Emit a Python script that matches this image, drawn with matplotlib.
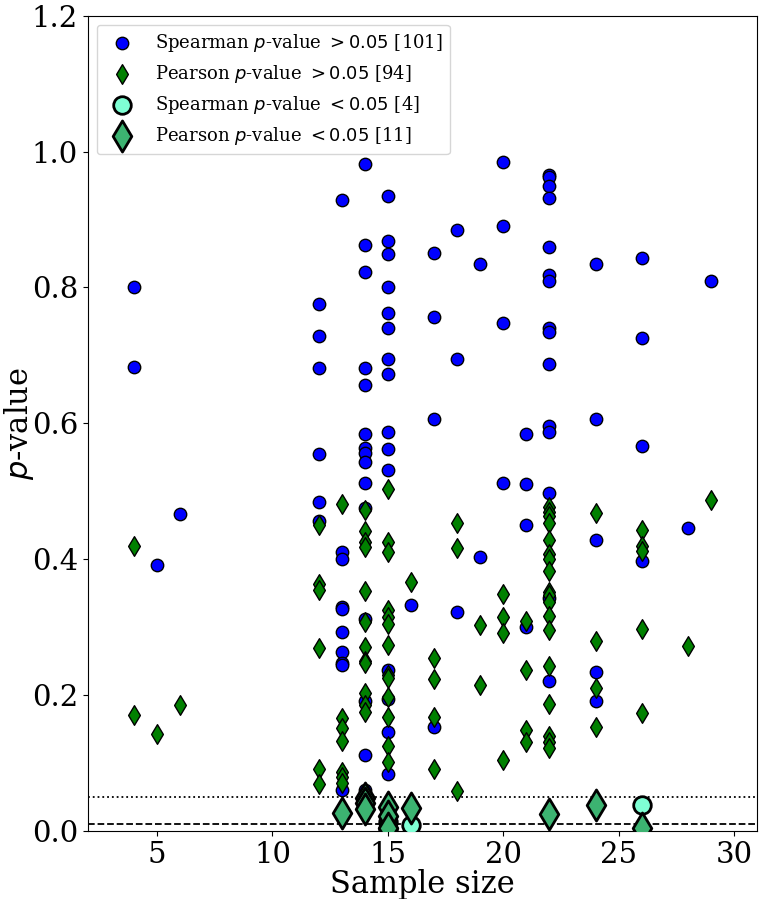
import matplotlib.pyplot as plt

plt.rcParams['font.family'] = 'DejaVu Serif'
plt.rcParams['mathtext.fontset'] = 'dejavusans'

# Spearman p-values > 0.05, per sample size
sp_x = ([4]*2 + [5] + [6] + [12]*6 + [13]*10 + [14]*15 + [15]*15 + [16] + [17]*4
        + [18]*3 + [19]*2 + [20]*4 + [21]*4 + [22]*15 + [24]*5 + [26]*4 + [28] + [29])
sp_y = [0.80, 0.683,
        0.391,
        0.467,
        0.776, 0.729, 0.681, 0.555, 0.484, 0.457,
        0.928, 0.41, 0.401, 0.329, 0.327, 0.293, 0.263, 0.247, 0.244, 0.06,
        0.981, 0.863, 0.822, 0.681, 0.656, 0.585, 0.563, 0.557, 0.543, 0.512, 0.475, 0.312, 0.191, 0.112, 0.061,
        0.934, 0.869, 0.849, 0.80, 0.763, 0.741, 0.694, 0.673, 0.587, 0.562, 0.532, 0.237, 0.194, 0.146, 0.084,
        0.332,
        0.851, 0.757, 0.606, 0.153,
        0.884, 0.694, 0.323,
        0.835, 0.403,
        0.984, 0.891, 0.747, 0.512,
        0.584, 0.51, 0.451, 0.30,
        0.966, 0.963, 0.95, 0.932, 0.859, 0.818, 0.81, 0.741, 0.734, 0.687, 0.596, 0.587, 0.497, 0.343, 0.221,
        0.834, 0.607, 0.428, 0.234, 0.191,
        0.844, 0.726, 0.566, 0.397,
        0.446,
        0.81]

# Pearson p-values > 0.05
pe_x = ([4]*2 + [5] + [6] + [12]*6 + [13]*7 + [14]*12 + [15]*13 + [16] + [17]*4
        + [18]*3 + [19]*2 + [20]*4 + [21]*4 + [22]*18 + [24]*4 + [26]*5 + [28] + [29])
pe_y = [0.42, 0.171,
        0.143,
        0.185,
        0.45, 0.364, 0.355, 0.269, 0.092, 0.069,
        0.481, 0.166, 0.152, 0.133, 0.087, 0.08, 0.071,
        0.472, 0.441, 0.425, 0.418, 0.353, 0.307, 0.271, 0.25, 0.247, 0.203, 0.186, 0.175,
        0.503, 0.425, 0.41, 0.326, 0.315, 0.304, 0.274, 0.229, 0.225, 0.197, 0.168, 0.125, 0.102,
        0.366,
        0.254, 0.224, 0.168, 0.092,
        0.454, 0.416, 0.059,
        0.303, 0.215,
        0.349, 0.315, 0.292, 0.104,
        0.309, 0.237, 0.149, 0.131,
        0.477, 0.469, 0.463, 0.453, 0.429, 0.407, 0.40, 0.383, 0.352, 0.347, 0.337, 0.316, 0.296, 0.243, 0.187, 0.14, 0.131, 0.122,
        0.468, 0.279, 0.21, 0.153,
        0.443, 0.42, 0.412, 0.298, 0.174,
        0.272,
        0.487]

# significant ones (< 0.05)
sp_sig_x = [15, 15, 16, 26]
sp_sig_y = [0.013, 0.003, 0.009, 0.038]
pe_sig_x = [13, 14, 14, 14, 15, 15, 15, 16, 22, 24, 26]
pe_sig_y = [0.026, 0.048, 0.041, 0.033, 0.036, 0.022, 0.004, 0.034, 0.025, 0.039, 0.005]

fig = plt.figure(figsize=(7.64, 8.99), dpi=100)
ax = fig.add_axes([0.115, 0.0756, 0.876, 0.907])

ax.scatter(sp_x, sp_y, s=80, c='blue', edgecolors='black', linewidths=1,
           label='Spearman $p$-value $>0.05$ [101]', zorder=2)
ax.scatter(pe_x, pe_y, s=100, marker='d', c='green', edgecolors='black', linewidths=1,
           label='Pearson $p$-value $>0.05$ [94]', zorder=3)
ax.scatter(sp_sig_x, sp_sig_y, s=160, c='aquamarine', edgecolors='black', linewidths=2,
           label='Spearman $p$-value $<0.05$ [4]', zorder=4)
ax.scatter(pe_sig_x, pe_sig_y, s=250, marker='d', c='mediumseagreen', edgecolors='black', linewidths=2,
           label='Pearson $p$-value $<0.05$ [11]', zorder=4)

ax.axhline(0.05, color='black', linestyle=':', linewidth=1.3, zorder=1)
ax.axhline(0.01, color='black', linestyle='--', linewidth=1.3, zorder=1)

ax.set_xlim(2, 31)
ax.set_ylim(0, 1.2)
ax.set_xticks([5, 10, 15, 20, 25, 30])
ax.tick_params(labelsize=21)
ax.set_xlabel('Sample size', fontsize=22, labelpad=0)
ax.set_ylabel('$p$-value', fontsize=22)
ax.yaxis.set_label_coords(-0.078, 0.5)
ax.legend(loc='upper left', fontsize=13)

fig.savefig('out.png')
